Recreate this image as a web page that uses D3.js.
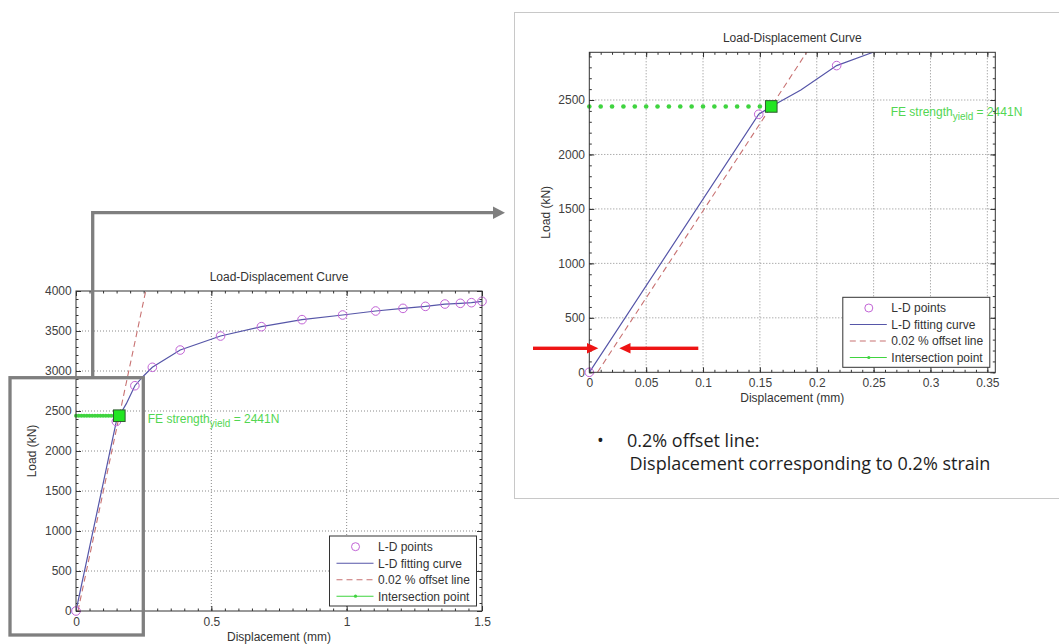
<!DOCTYPE html>
<meta charset="utf-8">
<script src="https://cdnjs.cloudflare.com/ajax/libs/d3/7.8.5/d3.min.js"></script>
<style>
  body { margin: 0; background: #fff; }
  svg text { font-family: "Liberation Sans", Arial, sans-serif; }
</style>
<div id="my_dataviz"></div>
<script>

// L-D points (displacement mm, load kN)
var ptDisp = [0, 0.149, 0.2175, 0.282, 0.385, 0.534, 0.685, 0.835, 0.985, 1.107, 1.208, 1.291, 1.363, 1.42, 1.461, 1.5];
var ptLoad = [0, 2369, 2816, 3046, 3262, 3437, 3554, 3642, 3700, 3750, 3783, 3808, 3837, 3846, 3854, 3871];

// L-D fitting curve
var fitDisp = [0, 0.149, 0.16, 0.186, 0.2175, 0.2495, 0.282, 0.385, 0.534, 0.685, 0.835, 0.985, 1.107, 1.208, 1.291, 1.363, 1.42, 1.461, 1.5];
var fitLoad = [0, 2369, 2441, 2592, 2816, 2938, 3046, 3262, 3437, 3554, 3642, 3700, 3750, 3783, 3808, 3837, 3846, 3854, 3871];

// 0.02 % offset line
var offsetDisp = [0.0072, 0.2576];
var offsetLoad = [0, 4000];

// intersection point and the yield level line
var yieldDisp = [0, 0.01, 0.02, 0.03, 0.04, 0.05, 0.06, 0.07, 0.08, 0.09, 0.10, 0.11, 0.12, 0.13, 0.14, 0.15, 0.16];
var yieldLoad = 2441;
var interDisp = 0.16;

// tick labels
var fullXTicks = [0, 0.5, 1, 1.5];
var fullYTicks = [0, 500, 1000, 1500, 2000, 2500, 3000, 3500, 4000];
var zoomXTicks = [0, 0.05, 0.1, 0.15, 0.2, 0.25, 0.3, 0.35];
var zoomYTicks = [0, 500, 1000, 1500, 2000, 2500];

var legendLabels = ["L-D points", "L-D fitting curve", "0.02 % offset line", "Intersection point"];

var colPts = "#c264d6", colFit = "#5656a8", colOff = "#c87272", colGreen = "#3fd43f";

var svg = d3.select("#my_dataviz").append("svg")
  .attr("width", 1059).attr("height", 644);
var defs = svg.append("defs");

// frame of the zoomed panel
svg.append("rect").attr("x", 514.5).attr("y", 12.5).attr("width", 545).attr("height", 486)
  .attr("fill", "#fff").attr("stroke", "#c8c8c8");

var fmt = d3.format("~g");

function drawChart(o) {
  var w = 406, h = 320;
  var g = svg.append("g").attr("transform", "translate(" + o.left + "," + o.top + ")");
  var x = d3.scaleLinear().domain([0, o.xMax]).range([0, w]);
  var y = d3.scaleLinear().domain([0, o.yMax]).range([h, 0]);

  defs.append("clipPath").attr("id", o.id).append("rect").attr("width", w).attr("height", h);

  g.append("rect").attr("width", w).attr("height", h).attr("fill", "#fff");

  // grid
  g.append("g").selectAll("line").data(o.xTicks.filter(function(t){ return t > 0 && t < o.xMax; }))
    .join("line").attr("x1", x).attr("x2", x).attr("y1", 0).attr("y2", h)
    .attr("stroke", "#8a8a8a").attr("stroke-dasharray", "1,2");
  g.append("g").selectAll("line").data(o.yTicks.filter(function(t){ return t > 0 && t < o.yMax; }))
    .join("line").attr("y1", y).attr("y2", y).attr("x1", 0).attr("x2", w)
    .attr("stroke", "#8a8a8a").attr("stroke-dasharray", "1,2");

  // ticks, MATLAB style: inward on all four sides
  var xMinor = d3.range(0, o.xMax + 1e-9, o.xMinor), yMinor = d3.range(0, o.yMax + 1e-9, o.yMinor);
  function ax(axis, tr, vals, size, labels, pad) {
    var a = g.append("g").attr("transform", tr)
      .call(axis.tickValues(vals).tickSizeInner(size).tickSizeOuter(0).tickPadding(pad)
        .tickFormat(labels ? fmt : ""));
    a.select(".domain").remove();
    a.selectAll("line").attr("stroke", "#333");
    a.selectAll("text").attr("fill", "#404040").style("font-size", "12px")
      .style("font-family", '"Liberation Sans", Arial, sans-serif');
    return a;
  }
  ax(d3.axisBottom(x), "translate(0," + h + ")", o.xTicks, -5, true, 6.4);
  ax(d3.axisBottom(x), "translate(0," + h + ")", xMinor, -2.5, false, 0);
  ax(d3.axisTop(x), "translate(0,0)", o.xTicks, -5, false, 0);
  ax(d3.axisTop(x), "translate(0,0)", xMinor, -2.5, false, 0);
  ax(d3.axisLeft(y), "translate(0,0)", o.yTicks, -5, true, 4.3);
  ax(d3.axisLeft(y), "translate(0,0)", yMinor, -2.5, false, 0);
  ax(d3.axisRight(y), "translate(" + w + ",0)", o.yTicks, -5, false, 0);
  ax(d3.axisRight(y), "translate(" + w + ",0)", yMinor, -2.5, false, 0);

  var plot = g.append("g").attr("clip-path", "url(#" + o.id + ")");
  var line = d3.line().x(function(d){ return x(d[0]); }).y(function(d){ return y(d[1]); });

  plot.append("path").datum(d3.zip(offsetDisp, offsetLoad)).attr("d", line)
    .attr("fill", "none").attr("stroke", colOff).attr("stroke-width", 1.1).attr("stroke-dasharray", "6,4");
  plot.append("path").datum(d3.zip(fitDisp, fitLoad)).attr("d", line)
    .attr("fill", "none").attr("stroke", colFit).attr("stroke-width", 1.2);

  // yield level dots
  g.append("g").selectAll("circle").data(yieldDisp).join("circle")
    .attr("cx", x).attr("cy", y(yieldLoad)).attr("r", o.dotR).attr("fill", colGreen);

  // L-D points
  g.append("g").selectAll("circle")
    .data(d3.zip(ptDisp, ptLoad).filter(function(d){ return d[0] <= o.xMax && d[1] <= o.yMax; }))
    .join("circle").attr("cx", function(d){ return x(d[0]); }).attr("cy", function(d){ return y(d[1]); })
    .attr("r", 4.3).attr("fill", "none").attr("stroke", colPts).attr("stroke-width", 1);

  // intersection square
  g.append("rect").attr("x", x(interDisp) - 5.8).attr("y", y(yieldLoad) - 5.8)
    .attr("width", 11.6).attr("height", 11.6).attr("fill", "#22e622").attr("stroke", "#2f5a2f");

  // annotation
  var t = g.append("text").attr("x", x(0.265)).attr("y", y(2350)).attr("fill", "#52d652")
    .style("font-size", "12px");
  t.append("tspan").text("FE strength");
  t.append("tspan").attr("dy", 4).style("font-size", "10px").text("yield");
  t.append("tspan").attr("dy", -4).text(" = " + yieldLoad + "N");

  // box
  g.append("rect").attr("width", w).attr("height", h).attr("fill", "none").attr("stroke", "#333");

  // labels
  g.append("text").attr("x", w / 2).attr("y", -10).attr("text-anchor", "middle")
    .attr("fill", "#333").style("font-size", "12px").text("Load-Displacement Curve");
  g.append("text").attr("x", w / 2).attr("y", h + 30).attr("text-anchor", "middle")
    .attr("fill", "#333").style("font-size", "12px").text("Displacement (mm)");
  g.append("text").attr("transform", "translate(-44," + (h / 2) + ") rotate(-90)")
    .attr("dy", "0.35em").attr("text-anchor", "middle")
    .attr("fill", "#333").style("font-size", "12px").text("Load (kN)");

  // legend
  var lg = g.append("g").attr("transform", "translate(" + (w - 5.5 - 147) + "," + (h - 5 - 70) + ")");
  lg.append("rect").attr("width", 147).attr("height", 70).attr("fill", "#fff").attr("stroke", "#333");
  legendLabels.forEach(function(lab, i) {
    var ry = 10.7 + i * 16.5;
    if (i === 0) {
      lg.append("circle").attr("cx", 26).attr("cy", ry).attr("r", 4).attr("fill", "none").attr("stroke", colPts);
    } else {
      var c = [colFit, colOff, colGreen][i - 1];
      lg.append("line").attr("x1", 7).attr("x2", 44).attr("y1", ry).attr("y2", ry)
        .attr("stroke", c).attr("stroke-width", 1.1).attr("stroke-dasharray", i === 2 ? "6,4" : null);
      if (i === 3) lg.append("circle").attr("cx", 26).attr("cy", ry).attr("r", 1.6).attr("fill", c);
    }
    lg.append("text").attr("x", 48.5).attr("y", ry).attr("dy", "0.36em")
      .attr("fill", "#333").style("font-size", "12px").text(lab);
  });
}

drawChart({id: "clipFull", left: 76, top: 291, xMax: 1.5, yMax: 4000,
  xTicks: fullXTicks, yTicks: fullYTicks, xMinor: 0.05, yMinor: 100, dotR: 2});
drawChart({id: "clipZoom", left: 589.3, top: 52.3, xMax: 0.357, yMax: 2938,
  xTicks: zoomXTicks, yTicks: zoomYTicks, xMinor: 0.01, yMinor: 100, dotR: 2.3});

// grey zoom box and arrow
var grey = "#7f7f7f";
svg.append("rect").attr("x", 10).attr("y", 377.7).attr("width", 133.3).attr("height", 257.3)
  .attr("fill", "none").attr("stroke", grey).attr("stroke-width", 3.3);
svg.append("path").attr("d", "M92.7,377.7V212.7H495").attr("fill", "none")
  .attr("stroke", grey).attr("stroke-width", 3.3);
svg.append("path").attr("d", "M493,206.5L505,212.7L493,218.9Z").attr("fill", grey);

// red arrows
var red = "#ee1414";
svg.append("rect").attr("x", 533).attr("y", 346.6).attr("width", 55).attr("height", 3.4).attr("fill", red);
svg.append("path").attr("d", "M587,343L598.3,348.3L587,353.6Z").attr("fill", red);
svg.append("rect").attr("x", 629).attr("y", 346.6).attr("width", 69.3).attr("height", 3.4).attr("fill", red);
svg.append("path").attr("d", "M630.5,343L619.3,348.3L630.5,353.6Z").attr("fill", red);

// note text
var note = svg.append("g").style("font-family", '"Open Sans", sans-serif').style("font-size", "18px")
  .attr("fill", "#1e1e1e");
note.append("text").attr("x", 597).attr("y", 446.5).style("font-family", '"Open Sans", sans-serif').text("\u2022");
note.append("text").attr("x", 627).attr("y", 446.5).style("font-family", '"Open Sans", sans-serif').text("0.2% offset line:");
note.append("text").attr("x", 629.5).attr("y", 470).style("font-family", '"Open Sans", sans-serif').text("Displacement corresponding to 0.2% strain");

</script>
